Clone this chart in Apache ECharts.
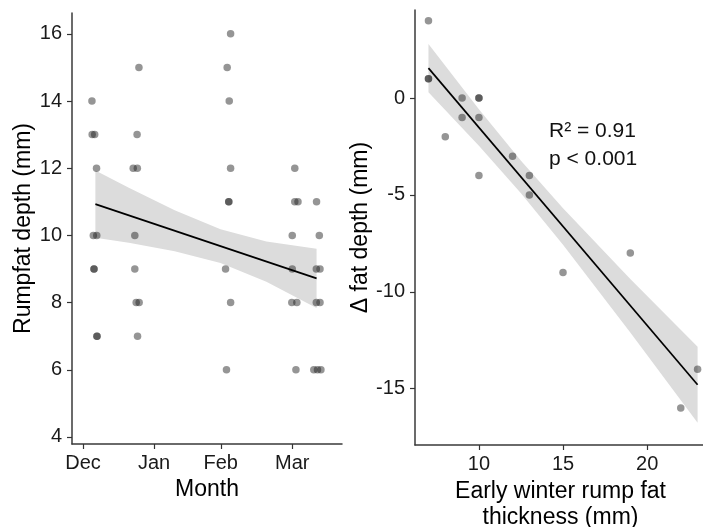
<!DOCTYPE html>
<html>
<head>
<meta charset="utf-8">
<script src="https://cdn.jsdelivr.net/npm/echarts@6/dist/echarts.min.js"></script>
<style>
  html, body { margin: 0; padding: 0; background: #fff; }
  #chart { width: 703px; height: 527px; }
</style>
</head>
<body>
<div id="chart"></div>
<script>
// left panel: rump fat depth by sampling date (days from 1 Dec)
const monthNames = ['Dec', 'Jan', 'Feb', 'Mar']
const monthTicks = [0, 31, 60.1, 91.3]
const depthTicks = [4, 6, 8, 10, 12, 14, 16]
const sampleDay = [
  3.9, 4.0, 5.1, 5.9, 4.5, 6.0, 4.8, 4.8, 6.1, 6.1,
  24.4, 23.6, 21.9, 23.7, 22.6, 22.6, 23.2, 24.5, 23.8,
  64.4, 62.9, 63.8, 64.4, 63.6, 63.6, 62.2, 64.4, 62.6,
  92.4, 92.4, 93.8, 91.3, 91.3, 91.1, 93.3, 92.9,
  101.9, 103.1, 101.8, 103.4, 101.8, 103.4, 100.7, 102.3, 103.8
]
const rumpDepth = [
  14, 13, 13, 12, 10, 10, 9, 9, 7, 7,
  15, 13, 12, 12, 10, 9, 8, 8, 7,
  16, 15, 14, 12, 11, 11, 9, 8, 6,
  12, 11, 11, 10, 9, 8, 8, 6,
  11, 10, 9, 9, 8, 8, 6, 6, 6
]
const leftFitDay = [5.4, 101.9]
const leftFitDepth = [10.93, 8.72]
const leftBandDay = [5.4, 20, 40, 60, 80, 101.9]
const leftBandLow = [9.93, 9.78, 9.53, 9.18, 8.62, 7.84]
const leftBandHigh = [11.93, 11.42, 10.75, 10.18, 9.82, 9.60]

// right panel: change in fat vs early winter thickness
const earlyFat = [7, 7, 7, 9, 10, 10, 9, 10, 8, 12, 10, 13, 13, 19, 15, 23, 22]
const fatChange = [4, 1, 1, 0, 0, 0, -1, -1, -2, -3, -4, -4, -5, -8, -9, -14, -16]
const changeTicks = [-15, -10, -5, 0]
const earlyTicks = [10, 15, 20]
const rightFitX = [7, 23]
const rightFitY = [1.55, -14.8]
const rightBandX = [7, 10, 12.5, 15, 19, 23]
const rightBandLow = [0.30, -2.46, -4.91, -7.57, -12.10, -16.76]
const rightBandHigh = [2.80, -0.58, -3.23, -5.69, -9.34, -12.84]

const font = '"Liberation Sans", Arial, sans-serif'
const pointColor = 'rgba(25,25,25,0.58)'
const bandColor = '#dcdcdc'

function zip(a, b) { return a.map((v, i) => [v, b[i]]) }

function bandSeries(idx, xs, lo, hi) {
  return {
    type: 'custom',
    xAxisIndex: idx, yAxisIndex: idx,
    data: xs.map((x, i) => [x, lo[i], hi[i]]),
    silent: true,
    z: 1,
    renderItem: function (params, api) {
      if (params.dataIndex !== 0) return null
      const top = xs.map((x, i) => api.coord([x, hi[i]]))
      const bottom = xs.map((x, i) => api.coord([x, lo[i]])).reverse()
      return {
        type: 'polygon',
        shape: { points: top.concat(bottom) },
        style: { fill: bandColor, stroke: null }
      }
    }
  }
}

const tickStyle = { color: '#333', width: 1.2 }
const labelStyle = { color: '#1a1a1a', fontSize: 20, fontFamily: font }

function axisCommon() {
  return {
    type: 'value',
    splitLine: { show: false },
    axisLine: { show: true, onZero: false, lineStyle: { color: '#3a3a3a', width: 1.5 } },
    nameLocation: 'middle',
    nameTextStyle: { color: '#000', fontSize: 23, fontFamily: font }
  }
}

const chart = echarts.init(document.getElementById('chart'), null, { renderer: 'canvas' })

const option = {
  backgroundColor: '#fff',
  animation: false,
  grid: [
    { left: 72, top: 13, width: 270, height: 431, outerBoundsMode: 'none' },
    { left: 415, top: 10, width: 291, height: 435, outerBoundsMode: 'none' }
  ],
  xAxis: [
    Object.assign(axisCommon(), {
      gridIndex: 0, min: -4.8, max: 113,
      name: 'Month', nameGap: 32,
      axisTick: { show: true, length: 5, customValues: monthTicks, lineStyle: tickStyle },
      axisLabel: Object.assign({}, labelStyle, {
        margin: 9,
        customValues: monthTicks,
        formatter: v => monthNames[monthTicks.indexOf(v)]
      })
    }),
    Object.assign(axisCommon(), {
      gridIndex: 1, min: 6.2, max: 23.5,
      name: 'Early winter rump fat\nthickness (mm)', nameGap: 31,
      nameTextStyle: { color: '#000', fontSize: 23, fontFamily: font, lineHeight: 26 },
      axisTick: { show: true, length: 5, customValues: earlyTicks, lineStyle: tickStyle },
      axisLabel: Object.assign({}, labelStyle, { margin: 9, customValues: earlyTicks })
    })
  ],
  yAxis: [
    Object.assign(axisCommon(), {
      gridIndex: 0, min: 3.79, max: 16.62,
      name: 'Rumpfat depth (mm)', nameGap: 37,
      axisTick: { show: true, length: 5, customValues: depthTicks, lineStyle: tickStyle },
      axisLabel: Object.assign({}, labelStyle, { margin: 10, customValues: depthTicks })
    }),
    Object.assign(axisCommon(), {
      gridIndex: 1, min: -17.91, max: 4.55,
      name: 'Δ fat depth (mm)', nameGap: 42,
      axisTick: { show: true, length: 5, customValues: changeTicks, lineStyle: tickStyle },
      axisLabel: Object.assign({}, labelStyle, { margin: 10, customValues: changeTicks })
    })
  ],
  graphic: [
    { type: 'text', left: 549, top: 121, style: { text: 'R² = 0.91', fontSize: 21, fontFamily: font, fill: '#111' } },
    { type: 'text', left: 549, top: 149, style: { text: 'p < 0.001', fontSize: 21, fontFamily: font, fill: '#111' } }
  ],
  series: [
    bandSeries(0, leftBandDay, leftBandLow, leftBandHigh),
    {
      type: 'scatter', xAxisIndex: 0, yAxisIndex: 0, z: 3,
      data: zip(sampleDay, rumpDepth),
      symbolSize: 7.5,
      itemStyle: { color: pointColor }
    },
    {
      type: 'line', xAxisIndex: 0, yAxisIndex: 0, z: 4,
      data: zip(leftFitDay, leftFitDepth),
      symbol: 'none', lineStyle: { color: '#000', width: 1.7 }
    },
    bandSeries(1, rightBandX, rightBandLow, rightBandHigh),
    {
      type: 'scatter', xAxisIndex: 1, yAxisIndex: 1, z: 3,
      data: zip(earlyFat, fatChange),
      symbolSize: 7.5,
      itemStyle: { color: pointColor }
    },
    {
      type: 'line', xAxisIndex: 1, yAxisIndex: 1, z: 4,
      data: zip(rightFitX, rightFitY),
      symbol: 'none', lineStyle: { color: '#000', width: 1.7 }
    }
  ]
}

chart.setOption(option)
</script>
</body>
</html>
